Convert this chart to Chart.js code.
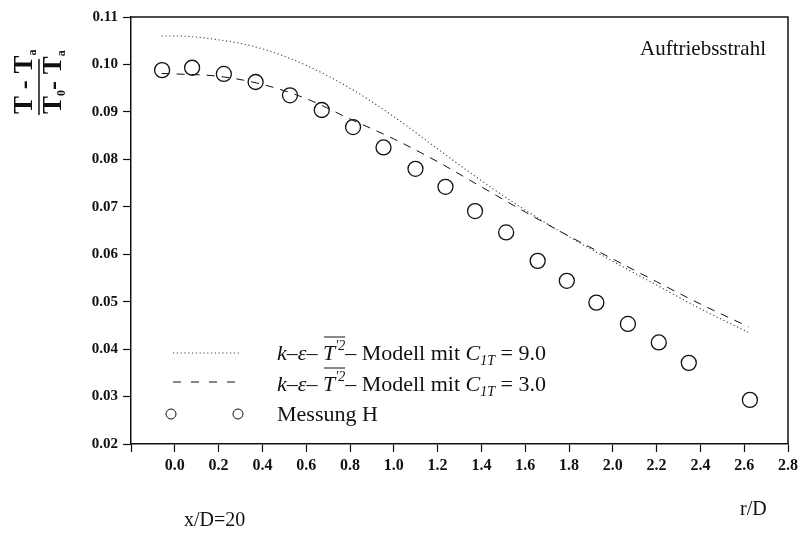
<!DOCTYPE html>
<html lang="de">
<head>
    <meta charset="UTF-8">
    <title>Auftriebsstrahl x/D=20</title>
    <script src="https://cdn.jsdelivr.net/npm/chart.js"></script>
    <style>
        html, body { margin: 0; padding: 0; background: #fff; }
        #wrap { width: 806px; height: 533px; position: relative; }
    </style>
</head>
<body>
    <div id="wrap">
        <canvas id="profileChart" width="806" height="533"></canvas>
    </div>

    <script>
        // Radial coordinate r/D of the measurement points
        const messR = [-0.058, 0.079, 0.224, 0.369, 0.526, 0.671, 0.814, 0.953, 1.099, 1.236,
                       1.371, 1.513, 1.657, 1.790, 1.925, 2.069, 2.210, 2.347, 2.626];
        // Measured temperature ratio (Messung H)
        const messT = [0.0988, 0.0993, 0.0980, 0.0963, 0.0935, 0.0904, 0.0868, 0.0825, 0.0780, 0.0742,
                       0.0691, 0.0646, 0.0586, 0.0544, 0.0498, 0.0453, 0.0414, 0.0371, 0.0293];

        // Model curves, sampled along r/D
        const modelR = [-0.06, 0.0, 0.2, 0.4, 0.6, 0.8, 1.0, 1.2, 1.4, 1.6, 1.8, 2.0, 2.2, 2.4, 2.62];
        const modelC9 = [0.1060, 0.1060, 0.1052, 0.1033, 0.0998, 0.0950, 0.0890, 0.0822, 0.0755,
                         0.0693, 0.0637, 0.0585, 0.0535, 0.0485, 0.0435];
        const modelC3 = [0.0981, 0.0980, 0.0975, 0.0958, 0.0928, 0.0885, 0.0843, 0.0795, 0.0742,
                         0.0689, 0.0638, 0.0590, 0.0542, 0.0495, 0.0447];

        // Axis ranges and tick steps
        const xRange = [-0.2, 2.8];
        const yRange = [0.02, 0.11];
        const xStep = 0.2;
        const yStep = 0.01;

        const legendRows = [
            { text: '9.0', kind: 'dotted' },
            { text: '3.0', kind: 'dashed' },
            { text: 'Messung H', kind: 'circles' }
        ];

        const SERIF = '"Liberation Serif", "Times New Roman", serif';
        const INK = '#111';

        function toXY(xs, ys) {
            return xs.map((x, i) => ({ x: x, y: ys[i] }));
        }

        // Draws a sequence of text pieces with their own font and vertical offset
        function drawPieces(ctx, x, y, pieces) {
            let cx = x;
            let overStart = null;
            pieces.forEach(p => {
                ctx.font = p.font;
                if (p.overStart) overStart = cx;
                ctx.fillText(p.t, cx, y + (p.dy || 0));
                cx += ctx.measureText(p.t).width;
                if (p.overEnd && overStart !== null) {
                    ctx.beginPath();
                    ctx.lineWidth = 1;
                    ctx.moveTo(overStart + 1, y - 23);
                    ctx.lineTo(cx, y - 23);
                    ctx.stroke();
                    overStart = null;
                }
            });
            return cx;
        }

        function modelPieces(value) {
            const big = '22px ' + SERIF;
            const bigI = 'italic 22px ' + SERIF;
            const smallI = 'italic 14px ' + SERIF;
            return [
                { t: 'k', font: bigI },
                { t: '–', font: big },
                { t: 'ε', font: bigI },
                { t: '– ', font: big },
                { t: 'T', font: bigI, overStart: true },
                { t: "'2", font: smallI, dy: -10, overEnd: true },
                { t: '– Modell mit ', font: big },
                { t: 'C', font: bigI },
                { t: '1T', font: smallI, dy: 5 },
                { t: ' = ' + value, font: big }
            ];
        }

        // Frame, axis title, annotation texts and the legend
        const decorPlugin = {
            id: 'decor',
            afterDraw(chart) {
                const ctx = chart.ctx;
                const a = chart.chartArea;
                ctx.save();
                ctx.strokeStyle = INK;
                ctx.fillStyle = INK;

                // top and right frame lines
                ctx.lineWidth = 1.5;
                ctx.beginPath();
                ctx.moveTo(a.left, a.top);
                ctx.lineTo(a.right, a.top);
                ctx.lineTo(a.right, a.bottom);
                ctx.stroke();

                // rotated fraction (T - Ta) / (T0 - Ta)
                ctx.save();
                ctx.translate(39, 87);
                ctx.rotate(-Math.PI / 2);
                ctx.textBaseline = 'alphabetic';
                const tb = 'bold 27px ' + SERIF;
                const ts = 'bold 12px ' + SERIF;
                drawPieces(ctx, -27, -7, [
                    { t: 'T - T', font: tb },
                    { t: 'a', font: ts, dy: 4 }
                ]);
                drawPieces(ctx, -27, 22, [
                    { t: 'T', font: tb },
                    { t: '0', font: ts, dy: 4 },
                    { t: '- T', font: tb },
                    { t: 'a', font: ts, dy: 4 }
                ]);
                ctx.lineWidth = 1.5;
                ctx.beginPath();
                ctx.moveTo(-28, 0);
                ctx.lineTo(28, 0);
                ctx.stroke();
                ctx.restore();

                // annotations
                ctx.textBaseline = 'alphabetic';
                ctx.font = '21px ' + SERIF;
                ctx.textAlign = 'right';
                ctx.fillText('Auftriebsstrahl', 766, 55);
                ctx.textAlign = 'left';
                ctx.font = '20px ' + SERIF;
                ctx.fillText('x/D=20', 184, 526);
                ctx.fillText('r/D', 740, 515);

                // legend
                const sampleX0 = 173, sampleX1 = 238, textX = 277;
                const baselines = [360, 391, 421];
                const sampleY = [353, 382, 414];
                legendRows.forEach((row, i) => {
                    ctx.lineWidth = 1;
                    if (row.kind === 'dotted' || row.kind === 'dashed') {
                        ctx.setLineDash(row.kind === 'dotted' ? [1.2, 2.6] : [8, 10]);
                        ctx.strokeStyle = row.kind === 'dotted' ? '#444' : INK;
                        ctx.beginPath();
                        ctx.moveTo(sampleX0, sampleY[i]);
                        ctx.lineTo(sampleX1 + 2, sampleY[i]);
                        ctx.stroke();
                        ctx.setLineDash([]);
                        ctx.strokeStyle = INK;
                        drawPieces(ctx, textX, baselines[i], modelPieces(row.text));
                    } else {
                        [171, 238].forEach(cx => {
                            ctx.beginPath();
                            ctx.arc(cx, sampleY[i], 5, 0, Math.PI * 2);
                            ctx.stroke();
                        });
                        ctx.font = '22px ' + SERIF;
                        ctx.fillText(row.text, textX, baselines[i]);
                    }
                });
                ctx.restore();
            }
        };

        const axisCommon = {
            type: 'linear',
            grid: {
                display: true,
                drawOnChartArea: false,
                drawTicks: true,
                tickLength: 8,
                color: INK,
                tickWidth: 1.2
            },
            border: { display: true, color: INK, width: 1.5 }
        };

        const ctx = document.getElementById('profileChart').getContext('2d');
        new Chart(ctx, {
            type: 'scatter',
            data: {
                datasets: [
                    {
                        label: 'C1T = 9.0',
                        data: toXY(modelR, modelC9),
                        showLine: true,
                        pointRadius: 0,
                        borderColor: '#444',
                        borderWidth: 1.1,
                        borderDash: [1.2, 2.6],
                        cubicInterpolationMode: 'monotone'
                    },
                    {
                        label: 'C1T = 3.0',
                        data: toXY(modelR, modelC3),
                        showLine: true,
                        pointRadius: 0,
                        borderColor: INK,
                        borderWidth: 1,
                        borderDash: [8, 7],
                        cubicInterpolationMode: 'monotone'
                    },
                    {
                        label: 'Messung H',
                        data: toXY(messR, messT),
                        showLine: false,
                        pointStyle: 'circle',
                        pointRadius: 7.5,
                        pointBorderWidth: 1.3,
                        pointBackgroundColor: 'rgba(255,255,255,0)',
                        pointBorderColor: INK
                    }
                ]
            },
            options: {
                responsive: false,
                animation: false,
                layout: { padding: { top: 17, right: 18, bottom: 0, left: 0 } },
                plugins: {
                    legend: { display: false },
                    tooltip: { enabled: false }
                },
                scales: {
                    x: Object.assign({}, axisCommon, {
                        min: xRange[0],
                        max: xRange[1],
                        ticks: {
                            stepSize: xStep,
                            padding: 4,
                            color: INK,
                            font: { family: SERIF, size: 16, weight: 'bold' },
                            callback: v => (v < -0.1 ? '' : v.toFixed(1))
                        },
                        afterFit: scale => { scale.height = 89; }
                    }),
                    y: Object.assign({}, axisCommon, {
                        min: yRange[0],
                        max: yRange[1],
                        ticks: {
                            stepSize: yStep,
                            padding: 5,
                            color: INK,
                            font: { family: SERIF, size: 15, weight: 'bold' },
                            callback: v => v.toFixed(2)
                        },
                        afterFit: scale => { scale.width = 131; }
                    })
                }
            },
            plugins: [decorPlugin]
        });
    </script>
</body>
</html>
